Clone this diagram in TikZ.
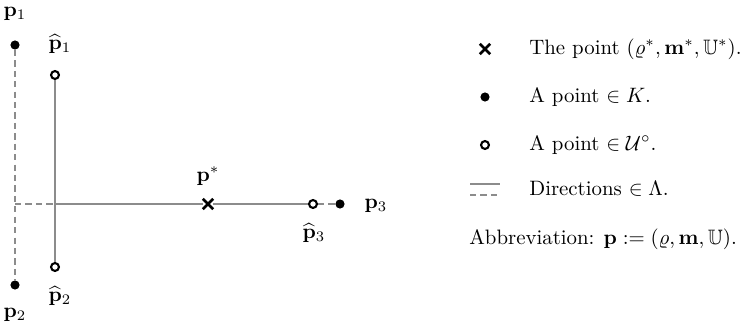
\documentclass[tikz,border=0pt]{standalone}
\usepackage{amsmath,amssymb}
\usetikzlibrary{positioning,shapes.misc}
\definecolor{dirgray}{RGB}{140,140,140}

\begin{document}
\begin{tikzpicture}[x=0.48pt,y=-0.48pt,
  dirline/.style={draw=dirgray,line width=1.3pt},
  dirdash/.style={dirline,dash pattern=on 3pt off 2pt},
  ptK/.style={circle,fill=black,inner sep=0pt,minimum size=4.4pt},
  ptU/.style={circle,draw=black,fill=white,line width=1pt,inner sep=0pt,minimum size=3.8pt},
  ptstar/.style={cross out,draw=black,line width=1.2pt,inner sep=0pt,minimum size=3.8pt},
  lbl/.style={inner sep=1pt}]
\useasboundingbox (0,0) rectangle (740,327);
% points
\node[ptK] (p1) at (15,45) {};
\node[ptK] (p2) at (15,285) {};
\node[ptK] (p3) at (340,204) {};
\node[ptU] (q1) at (55,75) {};
\node[ptU] (q2) at (55,267) {};
\node[ptU] (q3) at (313,204) {};
\node[ptstar] (ps) at (208,204) {};
\coordinate (c0) at (15,204);
\coordinate (c1) at (55,204);
% directions
\draw[dirdash] (p1) -- (p2);
\draw[dirdash] (c0) -- (c1);
\draw[dirline] (q1) -- (q2);
\draw[dirline] (c1) -- (ps) -- (q3);
\draw[dirdash] (q3) -- (p3);
% labels
\node[lbl] (lp1) at (15,14) {$\mathbf{p}_1$};
\node[lbl] (lp2) at (15,315) {$\mathbf{p}_2$};
\node[lbl] (lp3) at (376,206) {$\mathbf{p}_3$};
\node[lbl] (lq1) at (60,44) {$\widehat{\mathbf{p}}_1$};
\node[lbl] (lq2) at (60,296) {$\widehat{\mathbf{p}}_2$};
\node[lbl] (lq3) at (314,233) {$\widehat{\mathbf{p}}_3$};
\node[lbl] (lps) at (208,176) {$\mathbf{p}^*$};
% legend
\node[ptstar] (kstar) at (485,49) {};
\node[ptK] (kK) at (485,97) {};
\node[ptU] (kU) at (485,145) {};
\coordinate (ka) at (470,184);
\coordinate (kb) at (500,184);
\coordinate (kc) at (470,195);
\coordinate (kd) at (500,195);
\draw[dirline] (ka) -- (kb);
\draw[dirdash] (kc) -- (kd);
\node[anchor=west] (tstar) at (522,49) {The point $(\varrho^*,\mathbf{m}^*,\mathbb{U}^*)$.};
\node[anchor=west] (tK) at (522,97) {A point $\in K$.};
\node[anchor=west] (tU) at (522,145) {A point $\in \mathcal{U}^\circ$.};
\node[anchor=west] (tdir) at (522,189) {Directions $\in \Lambda$.};
\node[anchor=west] (tabb) at (462,239) {Abbreviation: $\mathbf{p} := (\varrho,\mathbf{m},\mathbb{U})$.};
\end{tikzpicture}
\end{document}
